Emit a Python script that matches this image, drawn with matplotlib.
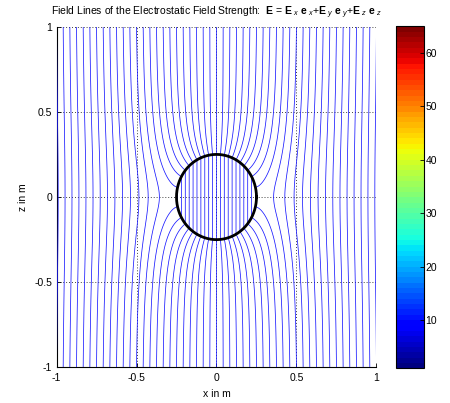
import numpy as np
import matplotlib
matplotlib.use("Agg")
import matplotlib.pyplot as plt
from matplotlib.colors import ListedColormap, Normalize
from matplotlib.cm import ScalarMappable

plt.rcParams['font.family'] = ['Liberation Sans', 'DejaVu Sans']
plt.rcParams['mathtext.fontset'] = 'custom'
plt.rcParams['mathtext.rm'] = 'Liberation Sans'
plt.rcParams['mathtext.it'] = 'Liberation Sans:italic'
plt.rcParams['mathtext.bf'] = 'Liberation Sans:bold'

# ---- data / parameters ----
sphere_radius = 0.25                 # m
dipole_factor = 1.0                  # (eps_r - 1)/(eps_r + 2), large eps_r
line_starts = np.arange(-24, 25) / 24.0   # x positions where field lines start at z = -1
start_z = -1.0
axis_ticks = [-1, -0.5, 0, 0.5, 1]
axis_ticklabels = ['-1', '-0.5', '0', '0.5', '1']
cbar_range = [1, 65]
cbar_ticks = [10, 20, 30, 40, 50, 60]
title_text = 'Field Lines of the Electrostatic Field Strength:  '
title_formula = (r'$\mathbf{E}\,=\,\mathbf{E}_{\ \it x}\ \mathbf{e}_{\ \it x}$+'
                 r'$\mathbf{E}_{\ \it y}\ \mathbf{e}_{\ \it y}$+'
                 r'$\mathbf{E}_{\ \it z}\ \mathbf{e}_{\ \it z}$')
xlabel_text = 'x in m'
zlabel_text = 'z in m'


def stream_function(x, z):
    r = np.sqrt(x ** 2 + z ** 2)
    base = x * np.abs(x) / 2.0
    outside = base * (1 + 2 * dipole_factor * sphere_radius ** 3 / np.maximum(r, 1e-9) ** 3)
    inside = base * (1 + 2 * dipole_factor)
    return np.where(r >= sphere_radius, outside, inside)


gx = np.linspace(-1.05, 1.05, 1051)
gz = np.linspace(-1.05, 1.05, 1051)
X, Z = np.meshgrid(gx, gz)
PSI = stream_function(X, Z)
levels = stream_function(line_starts, np.full_like(line_starts, start_z))

fig = plt.figure(figsize=(4.5, 4.03), dpi=100)
ax = fig.add_axes([0.1256, 0.0881, 0.711, 0.846])

ax.contour(X, Z, PSI, levels=levels, colors=[(0.1, 0.1, 1)], linewidths=0.55,
           linestyles='solid', zorder=3)

theta = np.linspace(0, 2 * np.pi, 400)
ax.plot(sphere_radius * np.cos(theta), sphere_radius * np.sin(theta),
        color='k', lw=2.0, zorder=4)

ax.set_xlim(-1, 1)
ax.set_ylim(-1, 1)
ax.set_xticks(axis_ticks)
ax.set_xticklabels(axis_ticklabels)
ax.set_yticks(axis_ticks)
ax.set_yticklabels(axis_ticklabels)
ax.tick_params(direction='in', length=3, labelsize=7.5, width=0.6)
ax.tick_params(axis='x', pad=4)
ax.tick_params(axis='y', pad=3)
for s in ['top', 'right']:
    ax.spines[s].set_visible(False)
for s in ['left', 'bottom']:
    ax.spines[s].set_linewidth(0.8)
    ax.spines[s].set_zorder(1)

for t in axis_ticks:
    ax.axhline(t, color='k', lw=0.6, ls=(0, (1, 2.5)), zorder=2.5)
    ax.axvline(t, color='k', lw=0.6, ls=(0, (1, 2.5)), zorder=2.5)

ax.set_xlabel(xlabel_text, fontsize=7.5, labelpad=4)
ax.set_ylabel(zlabel_text, fontsize=7.5, labelpad=5)

fig.text(0.1256 + 0.711 / 2, 0.968, title_text + title_formula,
         ha='center', va='center', fontsize=7.5)

# colorbar
cax = fig.add_axes([0.88, 0.0861, 0.0622, 0.849])
jet64 = ListedColormap(plt.get_cmap('jet')(np.linspace(0, 1, 64)))
sm = ScalarMappable(norm=Normalize(*cbar_range), cmap=jet64)
cb = fig.colorbar(sm, cax=cax, ticks=cbar_ticks)
cb.outline.set_linewidth(0.8)
cax.tick_params(direction='in', length=3, labelsize=7.5, width=0.6, pad=1)

fig.savefig('out.png', dpi=100)
